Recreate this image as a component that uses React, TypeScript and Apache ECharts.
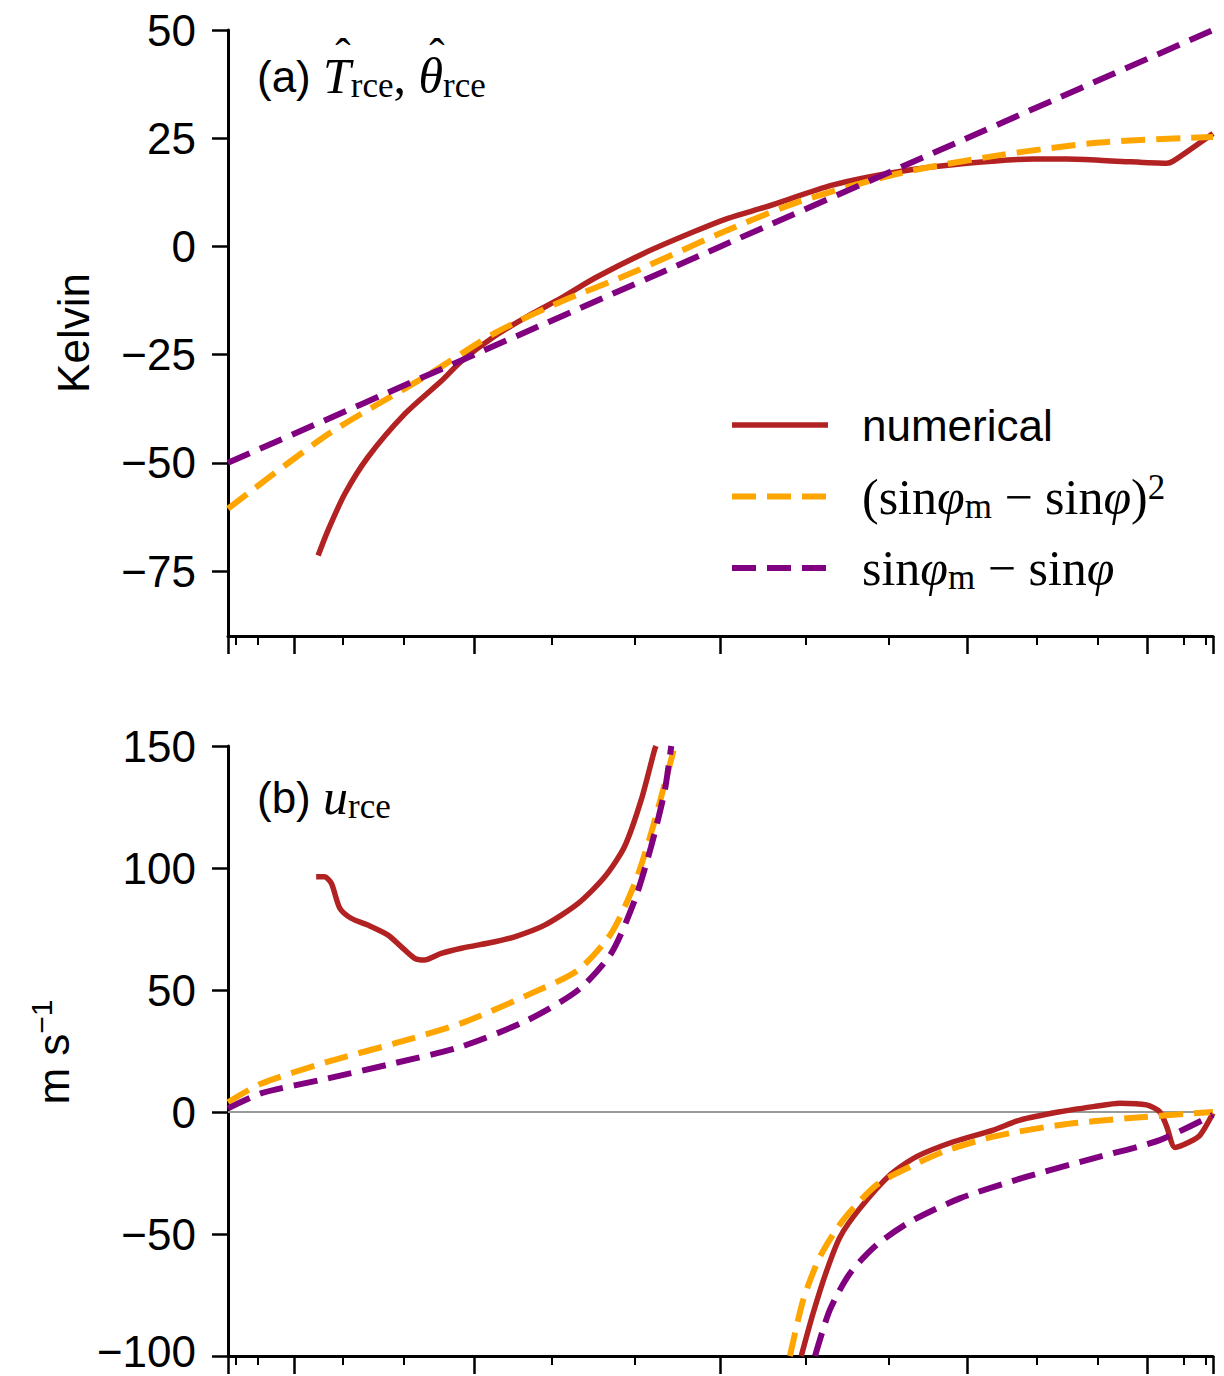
import React, { useEffect, useRef } from 'react';
import * as echarts from 'echarts';

// Horizontal coordinate is sin(latitude); ticks are placed at whole latitudes.
const majorTickLat = [-90, -60, -30, 0, 30, 60, 90];
const minorTickLat = [-80, -70, -50, -40, -20, -10, 10, 20, 40, 50, 70, 80];

const tempTicks = [-75, -50, -25, 0, 25, 50];
const windTicks = [-100, -50, 0, 50, 100, 150];

// (a) temperature anomaly [K] against sin(latitude)
const tNumX = [-0.817, -0.797, -0.763, -0.716, -0.641, -0.567, -0.526, -0.458, -0.391, -0.323, -0.255, -0.154, -0.052, 0.015, 0.094, 0.229, 0.364, 0.5, 0.635, 0.703, 0.804, 0.906, 0.919, 1.0];
const tNumY = [-71.4, -65.6, -57.2, -48.7, -38.7, -31.1, -26.5, -20.7, -16.1, -11.9, -7.3, -1.5, 3.5, 6.5, 9.2, 14.2, 17.3, 19.2, 20.2, 20.2, 19.7, 19.2, 19.7, 26.1];

const tQuadX = [-1.0, -0.797, -0.591, -0.458, -0.323, -0.188, 0.015, 0.161, 0.364, 0.567, 0.77, 1.0];
const tQuadY = [-60.6, -43.4, -29.5, -20.0, -12.7, -6.5, 3.8, 10.4, 16.9, 21.1, 24.0, 25.3];

const tLinX = [-1.0, -0.5, 0.0, 0.5, 1.0];
const tLinY = [-50, -25, 0, 25, 50];

// (b) zonal wind [m/s] against sin(latitude); each curve has two branches
const uNumX1 = [-0.821, -0.804, -0.79, -0.773, -0.75, -0.716, -0.675, -0.648, -0.621, -0.601, -0.567, -0.526, -0.458, -0.418, -0.357, -0.289, -0.235, -0.195, -0.161, -0.134, -0.131];
const uNumY1 = [96.4, 96.4, 93.7, 83.5, 79.4, 76.6, 72.5, 67.7, 63.0, 62.3, 65.0, 67.1, 69.8, 71.8, 76.6, 85.5, 96.4, 108.7, 127.9, 148.4, 150];
const uNumX2 = [0.164, 0.188, 0.216, 0.243, 0.283, 0.344, 0.398, 0.473, 0.554, 0.608, 0.689, 0.757, 0.811, 0.865, 0.892, 0.906, 0.923, 0.953, 0.974, 1.0];
const uNumY2 = [-100, -82.5, -64.8, -51.1, -39.5, -25.8, -18.3, -12.2, -7.4, -3.3, 0.1, 2.2, 3.6, 2.9, 0.1, -6.0, -14.5, -12.2, -9.4, -0.5];

const uQuadX1 = [-1.0, -0.932, -0.797, -0.662, -0.526, -0.391, -0.289, -0.222, -0.174, -0.141, -0.113, -0.093];
const uQuadY1 = [4.0, 11.7, 20.6, 28.1, 36.4, 48.0, 58.2, 73.2, 93.7, 114.2, 134.7, 150];
const uQuadX2 = [0.141, 0.168, 0.202, 0.249, 0.317, 0.385, 0.452, 0.554, 0.689, 0.825, 1.0];
const uQuadY2 = [-100, -77.0, -59.3, -44.3, -29.9, -22.4, -16.3, -10.1, -5.3, -2.6, 0];

const uLinX1 = [-1.0, -0.932, -0.797, -0.662, -0.526, -0.391, -0.289, -0.222, -0.174, -0.141, -0.113, -0.1];
const uLinY1 = [1.5, 7.7, 13.8, 20.0, 26.8, 37.7, 50.0, 65.0, 86.9, 108.7, 132.0, 150];
const uLinX2 = [0.192, 0.222, 0.263, 0.317, 0.385, 0.486, 0.622, 0.757, 0.892, 1.0];
const uLinY2 = [-100, -81.1, -66.1, -54.5, -45.0, -35.4, -26.5, -19.0, -11.5, -1.2];

const zeroX = [-1, 1];
const zeroY = [0, 0];

const RED = '#B22222';
const ORANGE = '#FFA500';
const PURPLE = '#800080';
const DASH = [24, 11];

const SANS = 'Liberation Sans, Arial, Helvetica, sans-serif';
const SERIF = 'Liberation Serif, Times New Roman, serif';

const zip = (xs: number[], ys: number[]) => xs.map((x, i) => [x, ys[i]]);
const sinLat = (lat: number) => Math.sin((lat * Math.PI) / 180);

const richText = {
  sans: { fontFamily: SANS, fontSize: 44, lineHeight: 54, color: '#000' },
  rm: { fontFamily: SERIF, fontSize: 50, lineHeight: 54, color: '#000' },
  it: { fontFamily: SERIF, fontStyle: 'italic', fontSize: 50, lineHeight: 54, color: '#000' },
  sub: { fontFamily: SERIF, fontSize: 35, lineHeight: 28, verticalAlign: 'bottom', color: '#000' },
  sup: { fontFamily: SERIF, fontSize: 35, lineHeight: 28, verticalAlign: 'top', color: '#000' },
  ssup: { fontFamily: SANS, fontSize: 30, lineHeight: 26, verticalAlign: 'top', color: '#000' },
};

// legend rows: key, colour, dashed, label
const legendRows: [string, string, boolean, string][] = [
  ['numerical', RED, false, '{sans|numerical}'],
  ['quadratic', ORANGE, true, '{rm|(sin}{it|φ}{sub|m}{rm| − sin}{it|φ}{rm|)}{sup|2}'],
  ['linear', PURPLE, true, '{rm|sin}{it|φ}{sub|m}{rm| − sin}{it|φ}'],
];

function xAxes(grid: number) {
  const common = {
    gridIndex: grid,
    type: 'value',
    min: -1,
    max: 1,
    position: 'bottom',
    axisLabel: { show: false },
    splitLine: { show: false },
  };
  return [
    {
      ...common,
      axisLine: { show: true, onZero: false, lineStyle: { color: '#000', width: 3 } },
      axisTick: {
        show: true,
        customValues: majorTickLat.map(sinLat),
        length: 18,
        lineStyle: { color: '#000', width: 2.5 },
      },
    },
    {
      ...common,
      axisLine: { show: false, onZero: false },
      axisTick: {
        show: true,
        customValues: minorTickLat.map(sinLat),
        length: 9,
        lineStyle: { color: '#000', width: 2 },
      },
    },
  ];
}

function yAxis(grid: number, min: number, max: number, ticks: number[]) {
  return {
    gridIndex: grid,
    type: 'value',
    min,
    max,
    axisLine: { show: true, onZero: false, lineStyle: { color: '#000', width: 3 } },
    axisTick: { show: true, customValues: ticks, length: 16, lineStyle: { color: '#000', width: 2.5 } },
    axisLabel: {
      customValues: ticks,
      margin: 32,
      fontSize: 44,
      fontFamily: SANS,
      color: '#000',
      // the lowest label sits at the page's bottom edge, so it is nudged up a little
      formatter: (v: number) => {
        const s = String(v).replace('-', '\u2212');
        return v === min && min === -100 ? `{low|${s}}` : s;
      },
      rich: {
        low: { fontSize: 44, fontFamily: SANS, color: '#000', padding: [0, 0, 10, 0] },
      },
    },
    splitLine: { show: false },
  };
}

function curve(name: string, color: string, dashed: boolean, xi: number, yi: number, data: number[][]) {
  return {
    type: 'line',
    name,
    xAxisIndex: xi,
    yAxisIndex: yi,
    data,
    symbol: 'none',
    showSymbol: false,
    smooth: 0.25,
    clip: true,
    color,
    itemStyle: { color },
    lineStyle: dashed ? { color, width: 6, type: DASH } : { color, width: 5.5 },
    z: 3,
  };
}

export default function App() {
  const ref = useRef<HTMLDivElement>(null);

  useEffect(() => {
    if (!ref.current) return;
    const chart = echarts.init(ref.current, undefined, { renderer: 'svg' });

    const legendY0 = 425;
    const legendStep = 71.5;
    const legendGraphics = legendRows.flatMap(([, color, dashed, label], i) => {
      const y = legendY0 + i * legendStep;
      return [
        {
          type: 'line',
          shape: { x1: 732, y1: y, x2: 828, y2: y },
          style: dashed
            ? { stroke: color, lineWidth: 6, lineDash: DASH }
            : { stroke: color, lineWidth: 5.5 },
        },
        {
          type: 'text',
          x: 862,
          y,
          style: { text: label, rich: richText, verticalAlign: 'middle', align: 'left' },
        },
      ];
    });

    const option: any = {
      animation: false,
      backgroundColor: '#fff',
      grid: [
        { left: 228, top: 30, width: 985, height: 606, containLabel: false, outerBoundsMode: 'none' },
        { left: 228, top: 746, width: 985, height: 610, containLabel: false, outerBoundsMode: 'none' },
      ],
      xAxis: [...xAxes(0), ...xAxes(1)],
      yAxis: [yAxis(0, -90, 50, tempTicks), yAxis(1, -100, 150, windTicks)],
      series: [
        {
          type: 'line',
          name: 'zero',
          xAxisIndex: 2,
          yAxisIndex: 1,
          data: zip(zeroX, zeroY),
          symbol: 'none',
          silent: true,
          lineStyle: { color: '#9a9a9a', width: 2 },
          z: 1,
        },
        curve('numerical', RED, false, 0, 0, zip(tNumX, tNumY)),
        curve('quadratic', ORANGE, true, 0, 0, zip(tQuadX, tQuadY)),
        curve('linear', PURPLE, true, 0, 0, zip(tLinX, tLinY)),
        curve('numerical', RED, false, 2, 1, zip(uNumX1, uNumY1)),
        curve('numerical', RED, false, 2, 1, zip(uNumX2, uNumY2)),
        curve('quadratic', ORANGE, true, 2, 1, zip(uQuadX1, uQuadY1)),
        curve('quadratic', ORANGE, true, 2, 1, zip(uQuadX2, uQuadY2)),
        curve('linear', PURPLE, true, 2, 1, zip(uLinX1, uLinY1)),
        curve('linear', PURPLE, true, 2, 1, zip(uLinX2, uLinY2)),
      ],
      graphic: [
        ...legendGraphics,
        {
          type: 'text',
          x: 257,
          y: 76,
          style: {
            text: '{sans|(a) }{it|T}{sub|rce}{rm|, }{it|θ}{sub|rce}',
            rich: richText,
            verticalAlign: 'middle',
          },
        },
        // circumflex accents over T and θ
        {
          type: 'text',
          x: 343,
          y: 55,
          style: { text: 'ˆ', fontFamily: SERIF, fontSize: 46, fill: '#000', align: 'center', verticalAlign: 'middle' },
        },
        {
          type: 'text',
          x: 437,
          y: 55,
          style: { text: 'ˆ', fontFamily: SERIF, fontSize: 46, fill: '#000', align: 'center', verticalAlign: 'middle' },
        },
        {
          type: 'text',
          x: 257,
          y: 797,
          style: {
            text: '{sans|(b) }{it|u}{sub|rce}',
            rich: richText,
            verticalAlign: 'middle',
          },
        },
        {
          type: 'text',
          x: 73,
          y: 333,
          rotation: Math.PI / 2,
          style: {
            text: 'Kelvin',
            fontFamily: SANS,
            fontSize: 44,
            fill: '#000',
            align: 'center',
            verticalAlign: 'middle',
          },
        },
        {
          type: 'text',
          x: 53,
          y: 1052,
          rotation: Math.PI / 2,
          style: {
            text: '{sans|m s}{ssup|\u22121}',
            rich: richText,
            align: 'center',
            verticalAlign: 'middle',
          },
        },
      ],
    };

    chart.setOption(option);
    return () => chart.dispose();
  }, []);

  return (
    <div
      ref={ref}
      style={{ position: 'absolute', left: 0, top: 0, width: 1224, height: 1376, background: '#fff' }}
    />
  );
}
